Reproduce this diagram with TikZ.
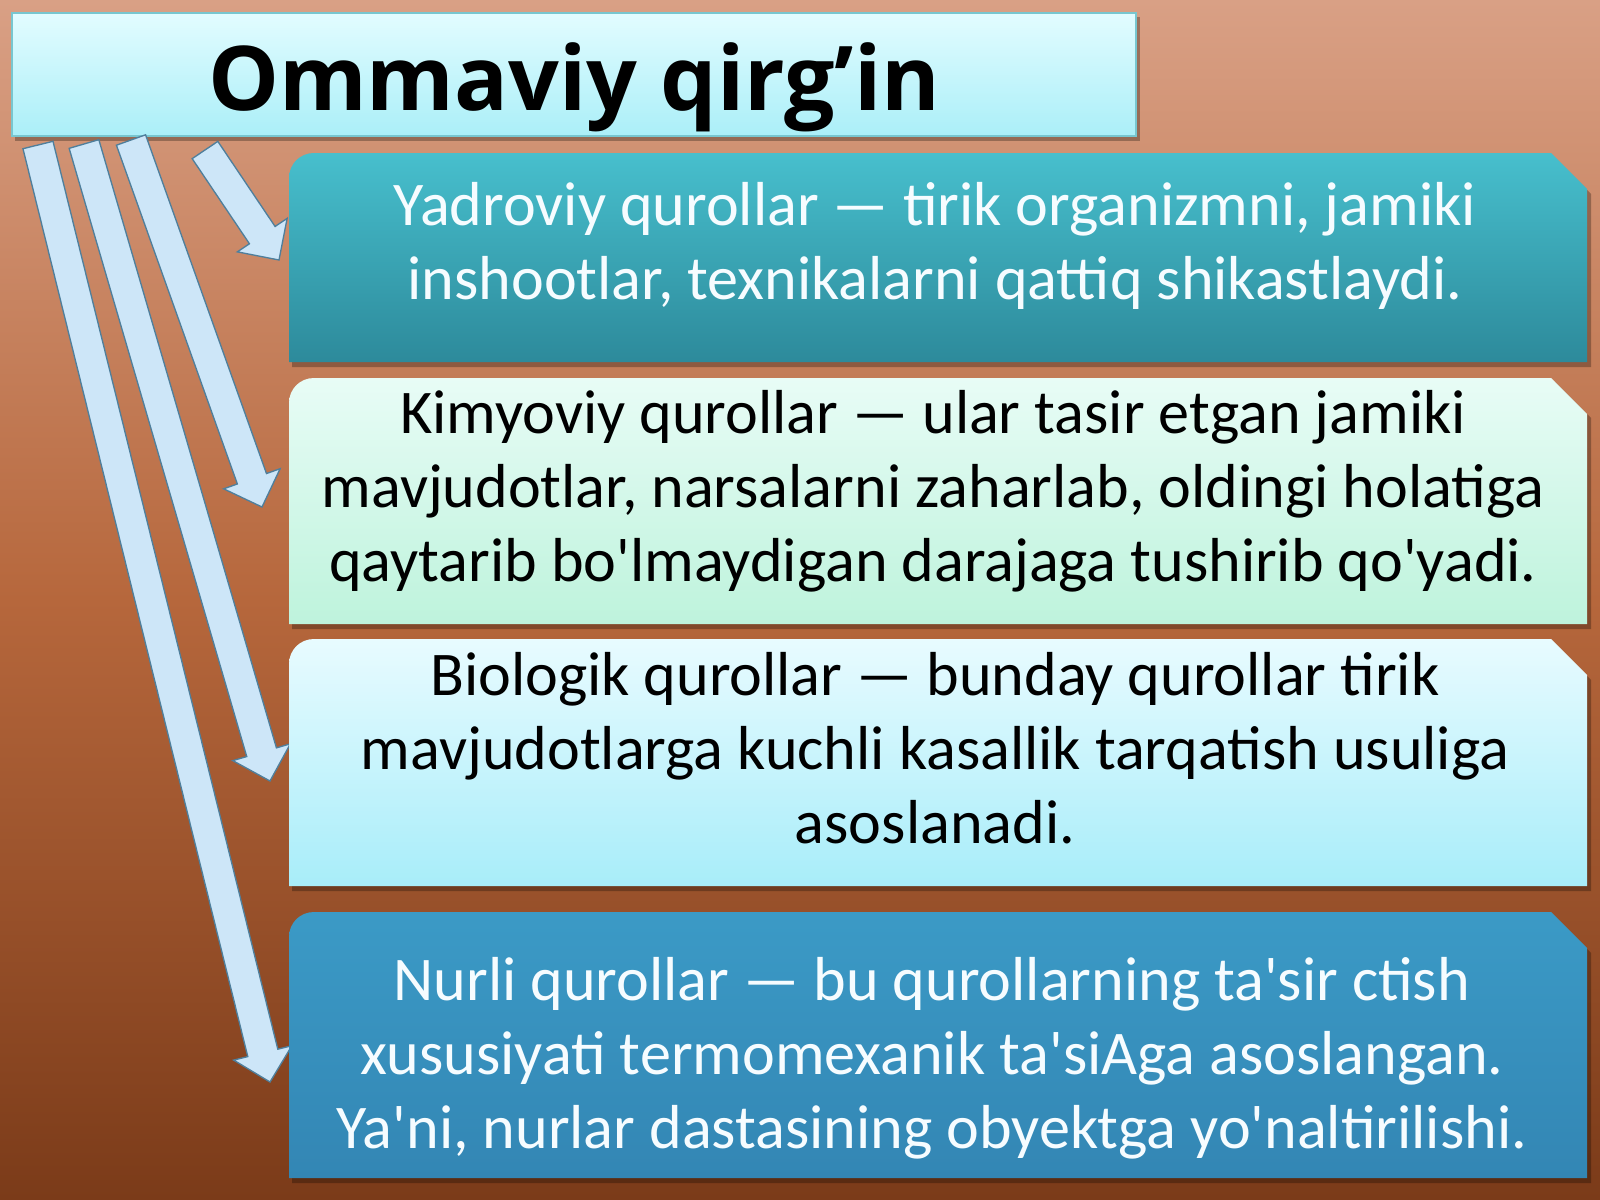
\documentclass[tikz,border=0pt]{standalone}
\usepackage{fontspec}
\setmainfont{Carlito}[Ligatures=TeXOff]
\newfontfamily\titlefont{Open Sans}
\usetikzlibrary{calc}
\definecolor{bgtop}{HTML}{D9A085}
\definecolor{bgmid}{HTML}{B6673C}
\definecolor{bgbot}{HTML}{7B3B19}
\definecolor{tttop}{HTML}{E2FCFF}
\definecolor{ttbot}{HTML}{ABEFF8}
\definecolor{ttline}{HTML}{78C6CF}
\definecolor{aAtop}{HTML}{47BFCD}
\definecolor{aAbot}{HTML}{2D8A9B}
\definecolor{bBtop}{HTML}{E8FCF6}
\definecolor{bBbot}{HTML}{BEF3DC}
\definecolor{cCtop}{HTML}{E8FBFF}
\definecolor{cCbot}{HTML}{A8EDF9}
\definecolor{dDtop}{HTML}{3B9AC6}
\definecolor{dDbot}{HTML}{3386B4}
\definecolor{arrfill}{HTML}{CDE6F8}
\definecolor{arrline}{HTML}{4F7F9C}
\definecolor{lighttext}{HTML}{F6FCFF}
\newcommand\slidebox[5]{%
  \path[#5] (#1,#4) -- (#1,#2+25) .. controls (#1,#2+11) and (#1+11,#2) .. (#1+25,#2)
    -- (#3-36,#2) -- (#3,#2+36) -- (#3,#4) -- cycle;}
\newcommand\blockarrow[2]{%
  \coordinate (ab) at ($(#2)!11.25pt!(#1)$);
  \draw[arrowsty] ($(#1)!5.8pt!90:(#2)$) -- ($(ab)!5.8pt!90:(#2)$)
    -- ($(ab)!11.25pt!90:(#2)$) -- (#2) -- ($(ab)!11.25pt!-90:(#2)$)
    -- ($(ab)!5.8pt!-90:(#2)$) -- ($(#1)!5.8pt!-90:(#2)$) -- cycle;}
\begin{document}
\begin{tikzpicture}[x=0.375pt,y=-0.375pt,
  arrowsty/.style={fill=arrfill,draw=arrline,line width=0.5pt,line join=miter},
  shadowsty/.style={fill=black,opacity=0.28},
  bodytext/.style={font=\fontsize{23.3}{27.6}\selectfont,align=center,anchor=base,inner sep=0pt},
  titletext/.style={font=\titlefont\bfseries\fontsize{33.5}{40}\selectfont,anchor=base,inner sep=0pt}]
\useasboundingbox (0,0) rectangle (1600,1200);
\shade[top color=bgtop,bottom color=bgbot,middle color=bgmid] (0,0) rectangle (1600,1200);
% title
\fill[shadowsty] (15,17) rectangle (1140,141);
\path[top color=tttop,bottom color=ttbot,draw=ttline,line width=0.6pt] (12,13) rectangle (1136,136);
\node[titletext] (title) at (574,110) {Ommaviy qirg’in};
% arrows
\coordinate (s1) at (205,150); \coordinate (t1) at (279,260);
\coordinate (s2) at (131,140); \coordinate (t2) at (262,507);
\coordinate (s3) at (84,144);  \coordinate (t3) at (270,781);
\coordinate (s4) at (38,145);  \coordinate (t4) at (270,1082);
\blockarrow{s4}{t4}
\blockarrow{s3}{t3}
\blockarrow{s2}{t2}
\blockarrow{s1}{t1}
% boxes
\slidebox{292}{158}{1591}{367}{shadowsty}
\slidebox{289}{153}{1587}{362}{top color=aAtop,bottom color=aAbot}
\slidebox{292}{382}{1591}{629}{shadowsty}
\slidebox{289}{378}{1587}{624}{top color=bBtop,bottom color=bBbot}
\slidebox{292}{644}{1591}{891}{shadowsty}
\slidebox{289}{639}{1587}{886}{top color=cCtop,bottom color=cCbot}
\slidebox{292}{917}{1591}{1183}{shadowsty}
\slidebox{289}{912}{1587}{1178}{top color=dDtop,bottom color=dDbot}
% texts
\node[bodytext,text=lighttext] (b1) at (935,299) {Yadroviy qurollar — tirik organizmni, jamiki\\inshootlar, texnikalarni qattiq shikastlaydi.};
\node[bodytext,text=black] (b2) at (933,581) {Kimyoviy qurollar — ular tasir etgan jamiki\\mavjudotlar, narsalarni zaharlab, oldingi holatiga\\qaytarib bo'lmaydigan darajaga tushirib qo'yadi.};
\node[bodytext,text=black] (b3) at (935,843) {Biologik qurollar — bunday qurollar tirik\\mavjudotlarga kuchli kasallik tarqatish usuliga\\asoslanadi.};
\node[bodytext,text=lighttext] (b4) at (932,1148) {Nurli qurollar — bu qurollarning ta'sir ctish\\xususiyati termomexanik ta'siAga asoslangan.\\Ya'ni, nurlar dastasining obyektga yo'naltirilishi.};
\end{tikzpicture}
\end{document}
